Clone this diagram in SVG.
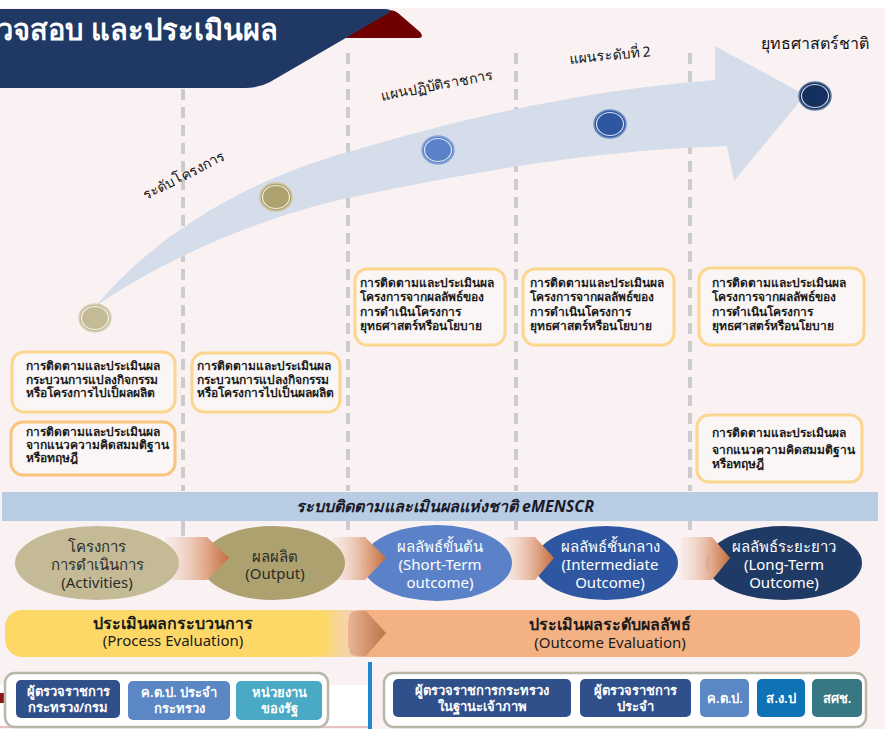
<svg xmlns="http://www.w3.org/2000/svg" width="885" height="729" viewBox="0 0 885 729">
<defs>
<style>
text{font-family:"Noto Sans","DejaVu Sans","Liberation Sans",sans-serif}
.dash{stroke:#cccccc;stroke-width:4;stroke-dasharray:11 7;fill:none}
.stub{stroke:#cccccc;stroke-width:4;fill:none}
.bx{fill:#faf6f5;stroke:#fcd68f;stroke-width:3}
.bx2{fill:#faf6f5;stroke:#f9c47c;stroke-width:3}
.bt{font-size:12px;font-weight:600;fill:#1c1c1c}
.lbl{font-size:14px;fill:#111}
.nt{font-size:15px;text-anchor:middle}
.dk{fill:#2b2b2b}
.wt{fill:#ffffff}
.ct{fill:#ffffff;stroke:#b9b7a8;stroke-width:2.5}
.bb{font-size:13px;font-weight:600;fill:#ffffff;text-anchor:middle}
.ring{fill:none;stroke:#ffffff;stroke-width:1.2;stroke-opacity:0.8}
</style>
<linearGradient id="chev" x1="0" y1="0" x2="1" y2="0">
<stop offset="0" stop-color="#f6e2da" stop-opacity="0.4"/>
<stop offset="0.6" stop-color="#e3ae92"/>
<stop offset="1" stop-color="#c56f3e"/>
</linearGradient>
<linearGradient id="fade" x1="0" y1="0" x2="1" y2="0">
<stop offset="0" stop-color="#fdd867"/>
<stop offset="1" stop-color="#f2d2c6"/>
</linearGradient>
<linearGradient id="notch" x1="0" y1="0" x2="1" y2="0">
<stop offset="0" stop-color="#e9b394"/>
<stop offset="1" stop-color="#bd7447"/>
</linearGradient>
</defs>

<rect x="0" y="0" width="885" height="729" fill="#f9f1f2"/>
<rect x="0" y="0" width="885" height="8" fill="#ffffff"/>
<rect x="0" y="685" width="372" height="42" fill="#ffffff"/>
<line x1="0" y1="727" x2="372" y2="727" stroke="#e2aeb0" stroke-width="1.5"/>

<g id="gridlines">
<line class="dash" x1="183" y1="53" x2="183" y2="491"/>
<line class="dash" x1="348" y1="53" x2="348" y2="491"/>
<line class="dash" x1="516" y1="53" x2="516" y2="491"/>
<line class="dash" x1="690" y1="53" x2="690" y2="491"/>
<line class="stub" x1="183" y1="521" x2="183" y2="536"/>
<line class="stub" x1="348" y1="521" x2="348" y2="530"/>
<line class="stub" x1="516" y1="521" x2="516" y2="530"/>
<line class="stub" x1="690" y1="521" x2="690" y2="530"/>
</g>

<g id="banner">
<path d="M343,38 L386,12 Q392,8 398,13 L420,32 Q425,38 417,38 Z" fill="#700000"/>
<path d="M0,9 L385,9 Q394,9 387,14 L270,82 Q259,88 245,88 L0,88 Z" fill="#203864"/>
<text x="-3" y="40" font-size="29" font-weight="600" fill="#ffffff">วจสอบ และประเมินผล</text>
</g>

<g id="big-arrow">
<path d="M96,306 C150,240 240,182 348,152 C430,128 560,92 715,80 L715,46 L805,95 L734,181 L727,146 C600,150 480,170 348,198 C250,220 160,262 96,306 Z" fill="#d5dcea"/>
</g>

<g id="stage-labels">
<text class="lbl" x="184" y="180" text-anchor="middle" transform="rotate(-27 184 175)">ระดับโครงการ</text>
<text class="lbl" x="437" y="90" text-anchor="middle" transform="rotate(-11 437 85)">แผนปฏิบัติราชการ</text>
<text class="lbl" x="610" y="60" text-anchor="middle" transform="rotate(-5 610 55)">แผนระดับที่ 2</text>
<text x="815" y="49" font-size="16" fill="#111" text-anchor="middle">ยุทธศาสตร์ชาติ</text>
</g>

<g id="dot1"><ellipse cx="95" cy="318" rx="16" ry="14" fill="#c4bb96" stroke="#d9d2b6" stroke-width="1.5"/><ellipse class="ring" cx="95" cy="318" rx="13.5" ry="11.5"/></g>
<g id="dot2"><ellipse cx="276" cy="197" rx="16" ry="14" fill="#ada26f" stroke="#cdc59d" stroke-width="1.5"/><ellipse class="ring" cx="276" cy="197" rx="13.5" ry="11.5"/></g>
<g id="dot3"><ellipse cx="438" cy="150" rx="16" ry="14" fill="#5b82c9" stroke="#8aa6db" stroke-width="1.5"/><ellipse class="ring" cx="438" cy="150" rx="13.5" ry="11.5"/></g>
<g id="dot4"><ellipse cx="610" cy="124" rx="16" ry="14" fill="#2f56a0" stroke="#6f8cc4" stroke-width="1.5"/><ellipse class="ring" cx="610" cy="124" rx="13.5" ry="11.5"/></g>
<g id="dot5"><ellipse cx="815" cy="96" rx="16" ry="14" fill="#13305f" stroke="#5d769f" stroke-width="1.5"/><ellipse class="ring" cx="815" cy="96" rx="13.5" ry="11.5"/></g>

<g id="boxA">
<rect class="bx" x="12" y="352" width="163" height="60" rx="12"/>
<text class="bt"><tspan x="26" y="370">การติดตามและประเมินผล</tspan><tspan x="26" y="384">กระบวนการแปลงกิจกรรม</tspan><tspan x="26" y="397">หรือโครงการไปเป็ผลผลิต</tspan></text>
</g>
<g id="boxB">
<rect class="bx2" x="11" y="422" width="164" height="53" rx="12"/>
<text class="bt"><tspan x="26" y="436">การติดตามและประเมินผล</tspan><tspan x="26" y="449">จากแนวความคิดสมมติฐาน</tspan><tspan x="26" y="462">หรือทฤษฎี</tspan></text>
</g>
<g id="boxC">
<rect class="bx" x="192" y="353" width="148" height="59" rx="12"/>
<text class="bt"><tspan x="197" y="370">การติดตามและประเมินผล</tspan><tspan x="197" y="384">กระบวนการแปลงกิจกรรม</tspan><tspan x="197" y="397">หรือโครงการไปเป็นผลผลิต</tspan></text>
</g>
<g id="boxD">
<rect class="bx" x="355" y="269" width="150" height="76" rx="12"/>
<text class="bt"><tspan x="360" y="287">การติดตามและประเมินผล</tspan><tspan x="360" y="301">โครงการจากผลลัพธ์ของ</tspan><tspan x="360" y="316">การดำเนินโครงการ</tspan><tspan x="360" y="330">ยุทธศาสตร์หรือนโยบาย</tspan></text>
</g>
<g id="boxE">
<rect class="bx" x="523" y="269" width="151" height="76" rx="12"/>
<text class="bt"><tspan x="530" y="287">การติดตามและประเมินผล</tspan><tspan x="530" y="301">โครงการจากผลลัพธ์ของ</tspan><tspan x="530" y="316">การดำเนินโครงการ</tspan><tspan x="530" y="330">ยุทธศาสตร์หรือนโยบาย</tspan></text>
</g>
<g id="boxF">
<rect class="bx" x="699" y="268" width="165" height="77" rx="12"/>
<text class="bt"><tspan x="712" y="287">การติดตามและประเมินผล</tspan><tspan x="712" y="301">โครงการจากผลลัพธ์ของ</tspan><tspan x="712" y="316">การดำเนินโครงการ</tspan><tspan x="712" y="330">ยุทธศาสตร์หรือนโยบาย</tspan></text>
</g>
<g id="boxG">
<rect class="bx" x="697" y="415" width="165" height="67" rx="12"/>
<text class="bt"><tspan x="712" y="437">การติดตามและประเมินผล</tspan><tspan x="712" y="454">จากแนวความคิดสมมติฐาน</tspan><tspan x="712" y="468">หรือทฤษฎี</tspan></text>
</g>

<g id="emenscr">
<rect x="2" y="492" width="876" height="29" fill="#b8cde4"/>
<text x="445" y="512" font-size="16" font-weight="700" font-style="italic" fill="#1b1b2a" text-anchor="middle">ระบบติดตามและเมินผลแห่งชาติ eMENSCR</text>
</g>

<g id="connectors">
<g id="n5"><ellipse cx="784" cy="563" rx="78" ry="37" fill="#203a66"/></g>
<polygon points="681,537 712,537 730,558 712,580 681,580" fill="url(#chev)"/>
<g id="n4"><ellipse cx="606" cy="563" rx="72" ry="37" fill="#2f56a0"/></g>
<polygon points="503,537 535,537 554,558 535,580 503,580" fill="url(#chev)"/>
<g id="n3"><ellipse cx="437" cy="563" rx="75" ry="38" fill="#5b82c9"/></g>
<polygon points="332,537 365,537 386,558 365,580 332,580" fill="url(#chev)"/>
<g id="n2"><ellipse cx="273" cy="563" rx="72" ry="37" fill="#ada26f"/></g>
<polygon points="165,537 207,537 229,558 207,580 165,580" fill="url(#chev)"/>
<g id="n1"><ellipse cx="97" cy="563" rx="82" ry="37" fill="#c4bb96"/></g>
</g>

<g id="node-texts">
<text class="nt dk"><tspan x="97" y="552">โครงการ</tspan><tspan x="97" y="570">การดำเนินการ</tspan><tspan x="97" y="588">(Activities)</tspan></text>
<text class="nt dk"><tspan x="275" y="562">ผลผลิต</tspan><tspan x="275" y="579">(Output)</tspan></text>
<text class="nt wt"><tspan x="440" y="552">ผลลัพธ์ขั้นต้น</tspan><tspan x="440" y="570">(Short-Term</tspan><tspan x="440" y="588">outcome)</tspan></text>
<text class="nt wt"><tspan x="610" y="552">ผลลัพธ์ชั้นกลาง</tspan><tspan x="610" y="570">(Intermediate</tspan><tspan x="610" y="588">Outcome)</tspan></text>
<text class="nt wt"><tspan x="784" y="552">ผลลัพธ์ระยะยาว</tspan><tspan x="784" y="570">(Long-Term</tspan><tspan x="784" y="588">Outcome)</tspan></text>
</g>

<g id="process-eval">
<rect x="318" y="610" width="42" height="47" fill="url(#fade)"/>
<rect x="5" y="610" width="325" height="47" rx="17" fill="#fdd867"/>
<text font-size="16" fill="#1b1b1b" text-anchor="middle"><tspan x="173" y="629" font-weight="700">ประเมินผลกระบวนการ</tspan><tspan x="173" y="646" font-size="15">(Process Evaluation)</tspan></text>
</g>
<g id="outcome-eval">
<rect x="348" y="610" width="512" height="47" rx="14" fill="#f4b183"/>
<path d="M356,611 L366,611 L386,633 L366,656 L356,656 Q349,656 349,648 L349,619 Q349,611 356,611 Z" fill="url(#notch)"/>
<text font-size="16" fill="#1b1b1b" text-anchor="middle"><tspan x="610" y="630" font-weight="700">ประเมินผลระดับผลลัพธ์</tspan><tspan x="610" y="648" font-size="15">(Outcome Evaluation)</tspan></text>
</g>

<line x1="370" y1="662" x2="370" y2="729" stroke="#1f88d0" stroke-width="4"/>
<rect x="0" y="693" width="4" height="10" fill="#8b1a1a"/>

<g id="left-group">
<rect class="ct" x="5" y="673" width="323" height="54" rx="10"/>
<g id="lb1"><rect x="16" y="680" width="104" height="38" rx="5" fill="#30508c"/><text class="bb"><tspan x="68" y="696">ผู้ตรวจราชการ</tspan><tspan x="68" y="712">กระทรวง/กรม</tspan></text></g>
<g id="lb2"><rect x="128" y="681" width="102" height="39" rx="5" fill="#5b87c5"/><text class="bb"><tspan x="179" y="697">ค.ต.ป. ประจำ</tspan><tspan x="179" y="713">กระทรวง</tspan></text></g>
<g id="lb3"><rect x="236" y="681" width="86" height="39" rx="5" fill="#4aaac6"/><text class="bb"><tspan x="279" y="697">หน่วยงาน</tspan><tspan x="279" y="713">ของรัฐ</tspan></text></g>
</g>
<g id="right-group">
<rect class="ct" x="384" y="673" width="482" height="54" rx="10"/>
<g id="rb1"><rect x="393" y="679" width="178" height="38" rx="5" fill="#30508c"/><text class="bb"><tspan x="482" y="695">ผู้ตรวจราชการกระทรวง</tspan><tspan x="482" y="711">ในฐานะเจ้าภาพ</tspan></text></g>
<g id="rb2"><rect x="580" y="679" width="111" height="38" rx="5" fill="#30508c"/><text class="bb"><tspan x="635" y="695">ผู้ตรวจราชการ</tspan><tspan x="635" y="711">ประจำ</tspan></text></g>
<g id="rb3"><rect x="700" y="679" width="49" height="38" rx="5" fill="#5b87c5"/><text class="bb" x="725" y="703">ค.ต.ป.</text></g>
<g id="rb4"><rect x="757" y="679" width="48" height="38" rx="5" fill="#0e72b5"/><text class="bb" x="781" y="703">ส.ง.ป</text></g>
<g id="rb5"><rect x="812" y="679" width="50" height="38" rx="5" fill="#387882"/><text class="bb" x="837" y="703">สศช.</text></g>
</g>
</svg>
